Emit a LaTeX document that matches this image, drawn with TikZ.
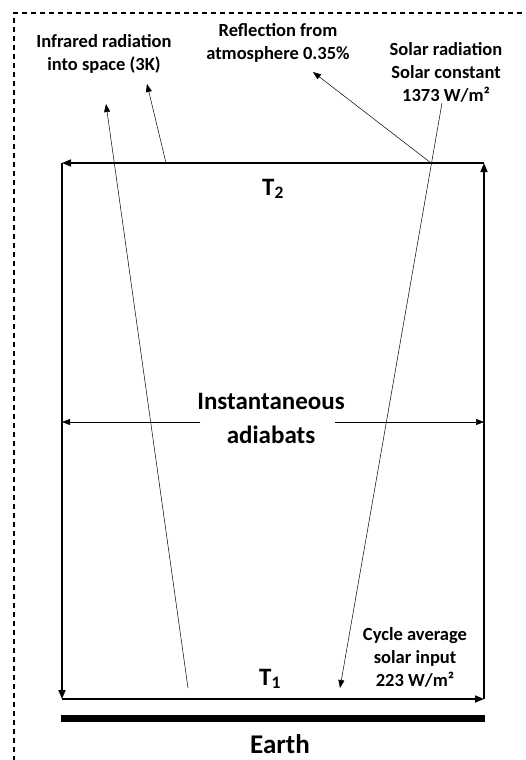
\documentclass[tikz,border=0pt]{standalone}
\usepackage{fontspec}
\setmainfont{Carlito}
\usetikzlibrary{arrows.meta}
\begin{document}
\begin{tikzpicture}[x=1pt, y=-1pt,
  lbl/.style={font=\bfseries\fontsize{18.5}{23}\selectfont, align=center, inner sep=1pt},
  big/.style={font=\bfseries\fontsize{25}{34}\selectfont, align=center, inner sep=1pt},
  cyc/.style={-{Triangle[length=9pt,width=7pt]}, line width=1.6pt},
  ray/.style={-{Triangle[length=8pt,width=6pt]}, line width=0.5pt}]
  \useasboundingbox (0,0) rectangle (525,760);
  \draw[line width=1.2pt, dash pattern=on 5pt off 4pt] (14,770) -- (14,13) -- (535,13);

  \coordinate (tl) at (62,163);
  \coordinate (tr) at (484,163);
  \coordinate (bl) at (62,699);
  \coordinate (br) at (484,699);
  \draw[cyc] (tr) -- (tl);
  \draw[cyc] (tl) -- (bl);
  \draw[cyc] (bl) -- (br);
  \draw[cyc] (br) -- (tr);

  \node[big] (t2) at (273,189) {T\textsubscript{2}};
  \node[big] (t1) at (270,679) {T\textsubscript{1}};
  \node[big] (adi) at (271,418) {Instantaneous\\adiabats};
  \coordinate (al) at (200,422);
  \coordinate (ar) at (335,422);
  \draw[ray] (al) -- (al -| tl);
  \draw[ray] (ar) -- (ar -| tr);

  \node[lbl] (ir) at (104,54) {Infrared radiation\\into space (3K)};
  \node[lbl] (refl) at (278,43) {Reflection from\\atmosphere 0.35\%};
  \node[lbl] (sol) at (446,72) {Solar radiation\\Solar constant\\1373 W/m²};
  \node[lbl] (avg) at (415,657) {Cycle average\\solar input\\223 W/m²};

  \coordinate (irA) at (188,688);
  \coordinate (irAt) at (106,104);
  \coordinate (irB) at (166,163);
  \coordinate (irBt) at (147,84);
  \coordinate (rf) at (431,163);
  \coordinate (rft) at (313,72);
  \coordinate (so) at (442,103);
  \coordinate (sot) at (340,688);
  \draw[ray] (irA) -- (irAt);
  \draw[ray] (irB) -- (irBt);
  \draw[ray] (rf) -- (rft);
  \draw[ray] (so) -- (sot);

  \coordinate (e1) at (61,718);
  \coordinate (e2) at (485,718);
  \draw[line width=7pt] (e1) -- (e2);
  \node[font=\bfseries\fontsize{27}{30}\selectfont] (earth) at (280,744) {Earth};
\end{tikzpicture}
\end{document}
